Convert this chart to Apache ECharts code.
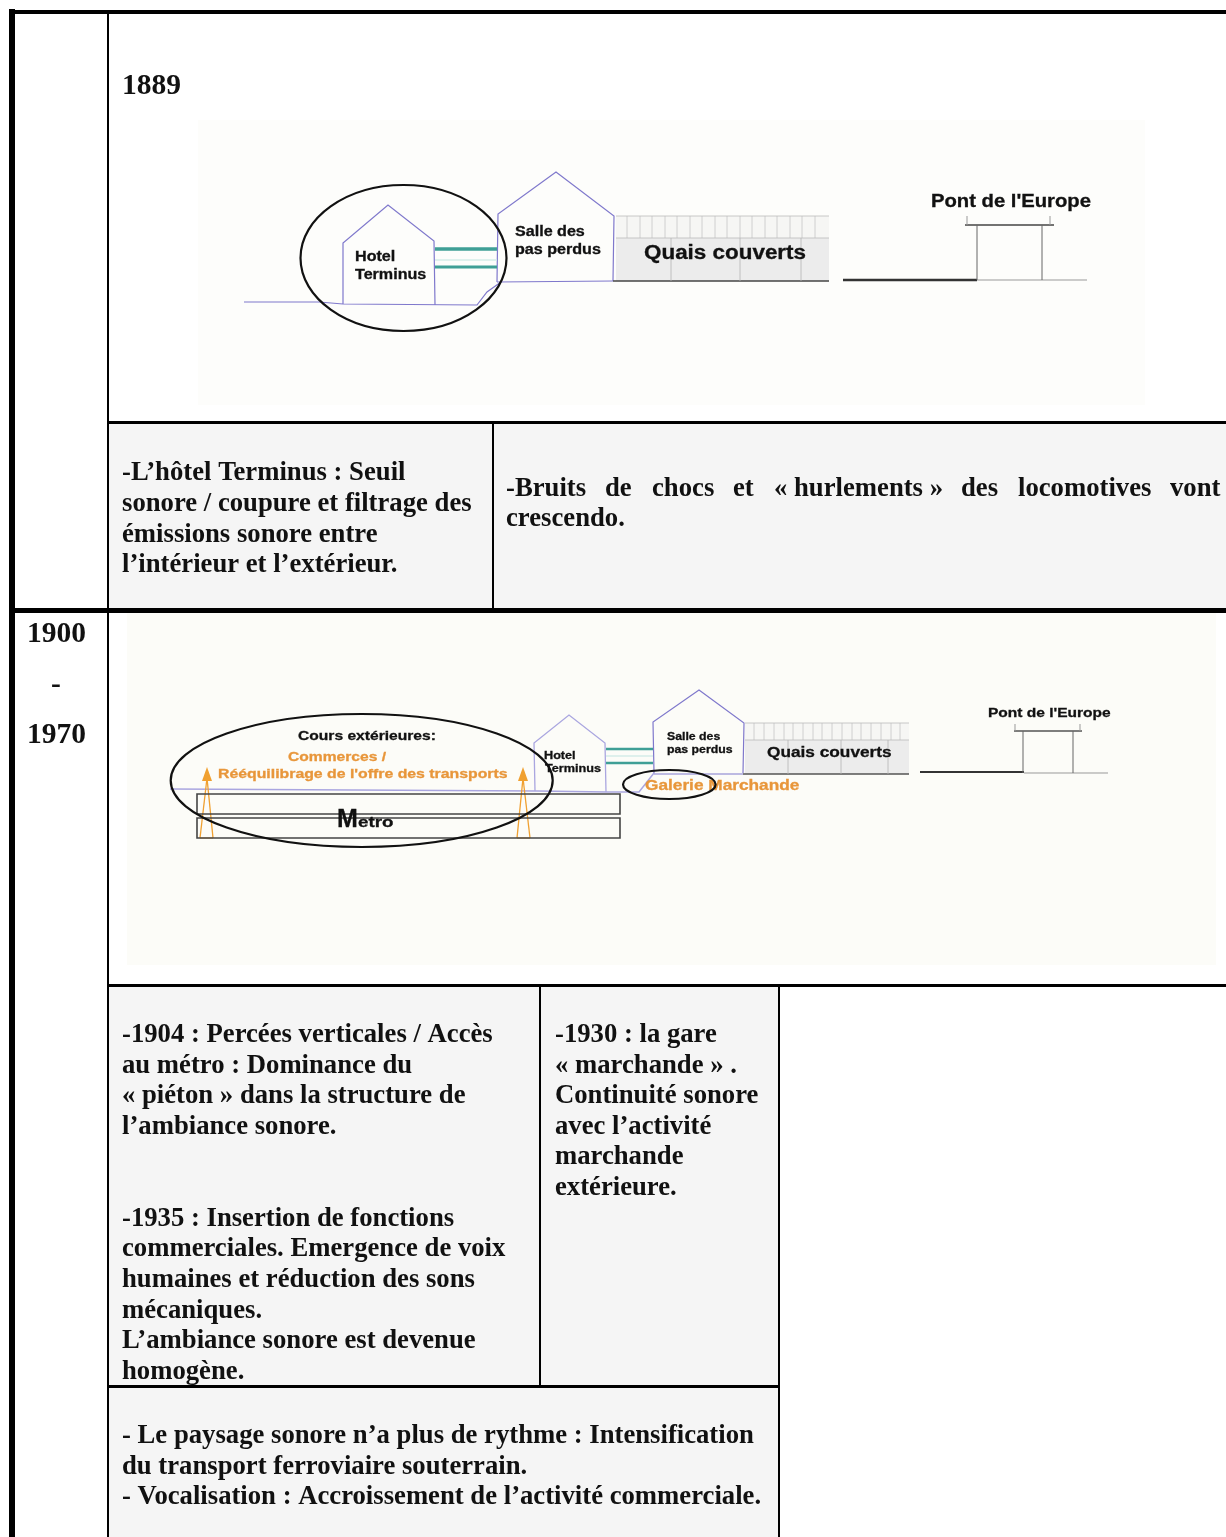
<!DOCTYPE html>
<html><head><meta charset="utf-8">
<style>html,body{margin:0;padding:0;background:#fff}#c{width:1226px;height:1537px}</style>
<script src="https://cdn.jsdelivr.net/npm/echarts@6/dist/echarts.min.js"></script>
</head><body><div id="c"></div>
<script>
const SERIF='"Liberation Serif"', SANS='"Liberation Sans"';
// ---- text content ----
const years=[['1889',122,86],['1900',27,634],['-',51,685],['1970',27,735]];
const cellLines=[
 ['-L’hôtel Terminus : Seuil',122,473],['sonore / coupure et filtrage des',122,504],['émissions sonore entre',122,535],['l’intérieur et l’extérieur.',122,565],
 ['crescendo.',506,519],
 ['-1904 : Percées verticales / Accès',122,1035],['au métro : Dominance du',122,1066],['« piéton » dans la structure de',122,1096],['l’ambiance sonore.',122,1127],
 ['-1935 : Insertion de fonctions',122,1219],['commerciales. Emergence de voix',122,1249],['humaines et réduction des sons',122,1280],['mécaniques.',122,1311],['L’ambiance sonore est devenue',122,1341],['homogène.',122,1372],
 ['-1930 : la gare',555,1035],['« marchande » .',555,1066],['Continuité sonore',555,1096],['avec l’activité',555,1127],['marchande',555,1157],['extérieure.',555,1188],
 ['- Le paysage sonore n’a plus de rythme : Intensification',122,1436],['du transport ferroviaire souterrain.',122,1467],['- Vocalisation : Accroissement de l’activité commerciale.',122,1497]
];
const justifiedWords=[['-Bruits',506],['de',605],['chocs',652],['et',733],['« hurlements »',774],['des',961],['locomotives',1018],['vont',1170]];
const justifiedY=489;
// [text,x,y,size,scaleX,color]
const BLK='#111',ORG='#e8963a';
const sketchLabels=[
 ['Hotel',355,257,14,1.15,BLK],['Terminus',355,275,14,1.15,BLK],['Salle des',515,232,14,1.15,BLK],['pas perdus',515,250,14,1.15,BLK],
 ['Quais couverts',644,254,19.5,1.15,BLK],['Pont de l\'Europe',931,202,17.6,1.15,BLK],
 ['Cours extérieures:',298,736,13,1.2,BLK],['Commerces /',288,757,13,1.2,ORG],['Rééquilibrage de l\'offre des transports',218,774,13.2,1.2,ORG],
 ['M',337,820,25,1,BLK],['etro',358,823,15,1.25,BLK],
 ['Hotel',544,756,11,1.15,BLK],['Terminus',545,769,11,1.15,BLK],['Salle des',667,737,10.7,1.15,BLK],['pas perdus',667,750,10.7,1.15,BLK],
 ['Quais couverts',767,753,15,1.15,BLK],['Galerie Marchande',645,786,15,1.15,ORG],['Pont de l\'Europe',988,713,13.5,1.15,BLK]
];
// ---- table ----
// [x0,y0,x1,y1,fill]
const fills=[
 [198,120,1145,405,'#fdfdfb'],[127,613,1216,965,'#fcfcf8'],
 [109,424,1226,608,'#f5f5f5'],[109,987,779,1386,'#f5f5f5'],[109,1388,779,1537,'#f5f5f5'],
 [616,238,829,281,'#ececec'],[616,216,829,238,'#f6f6f4'],[745,740,909,774,'#ececec'],[745,723,909,740,'#f6f6f4']
];
const rules=[
 [9,10,1226,14],[9,9,15,1537],[107,14,109,1537],[107,421,1226,424],[492,424,494,608],[9,608,1226,613],
 [107,984,1226,987],[539,987,541,1386],[778,985,780,1537],[107,1385,780,1388]
];
// ---- sketch ----
const VIO='#7f78cc',TEAL='#3f9f96',GRY='#999',DK='#333',ORL='#f0a030';
const upper1=[627,640,652,665,677,690,702,715,727,740,752,765,777,790,802,815];
const lower1=[671,740,801];
const upper2=[754,764,774,784,793,803,813,822,832,842,852,861,871,881,891,900];
const lower2=[788,841,888];
const polylines=[
 [[[343,304],[343,243],[388,205],[434,241],[435,305]],VIO,1.2],
 [[[244,302],[319,302],[343,304],[477,305],[487,292],[501,282]],VIO,1.2],
 [[[497,282],[498,214],[556,172],[614,216],[613,281]],VIO,1.2],
 [[[497,282],[613,281]],VIO,1.2],
 [[[613,281],[829,281]],'#444',1.5],
 [[[435,249],[497,249]],TEAL,3.5],[[[435,267],[497,267]],TEAL,3],[[[435,260],[497,260]],'#d5ece9',1.5],
 [[[843,280],[977,280]],'#333',2.5],[[[977,280],[1087,280]],GRY,1],
 [[[965,225],[1054,225]],'#444',1.5],[[[967,216],[967,225]],GRY,1],[[[1050,216],[1050,225]],GRY,1],[[[977,225],[977,280]],'#666',1],[[[1042,225],[1042,280]],'#666',1],
 [[[170,789],[537,791],[607,792],[639,792],[654,773]],'#aaa6e0',1.5],
 [[[535,791],[534,743],[569,715],[605,743],[606,792]],'#aaa6e0',1.3],
 [[[654,773],[653,722],[699,690],[744,723],[743,773]],VIO,1.2],
 [[[654,774],[743,774]],VIO,1.2],[[[743,774],[909,774]],'#555',1.3],
 [[[606,749],[653,749]],TEAL,2.5],[[[606,763],[653,763]],TEAL,2.5],[[[606,756],[653,756]],'#d5ece9',1.5],
 [[[920,772],[1024,772]],'#333',2],[[[1024,773],[1108,773]],GRY,1],
 [[[1014,731],[1082,731]],'#555',1.5],[[[1015,724],[1015,731]],GRY,1],[[[1080,724],[1080,731]],GRY,1],[[[1023,731],[1023,773]],'#666',1],[[[1073,731],[1073,773]],'#666',1],
 [[[207,778],[200,838]],ORL,1.3],[[[207,778],[213,838]],ORL,1.3],[[[200,838],[213,838]],ORL,1],
 [[[523,778],[517,838]],ORL,1.3],[[[523,778],[530,838]],ORL,1.3],[[[517,838],[530,838]],ORL,1]
];
const triangles=[[[207,767],[202,781],[212,781]],[[523,767],[518,781],[528,781]]];
// [x0,y0,x1,y1]
const metroTubes=[[197,794,620,814],[197,818,620,838]];
// [cx,cy,rx,ry]
const ellipses=[[403.5,258,103,73],[361.7,780.5,191,66.5],[669.3,784.5,46.3,14.5]];

upper1.forEach(x=>polylines.push([[[x,216],[x,238]],'#c6c6c6',0.8]));
polylines.push([[[616,216],[829,216]],'#bbb',0.8],[[[616,238],[829,238]],'#bbb',0.8]);
lower1.forEach(x=>polylines.push([[[x,238],[x,281]],'#b5b5b5',0.8]));
upper2.forEach(x=>polylines.push([[[x,723],[x,740]],'#c6c6c6',0.8]));
polylines.push([[[745,723],[909,723]],'#bbb',0.8],[[[745,740],[909,740]],'#bbb',0.8]);
lower2.forEach(x=>polylines.push([[[x,740],[x,774]],'#b5b5b5',0.8]));

function layer(items,render){
 return {type:'custom',coordinateSystem:'cartesian2d',clip:false,silent:true,
  data:items.map((_,i)=>[i,0]),encode:{x:0,y:1},
  renderItem:(p,api)=>render(items[p.dataIndex],a=>api.coord(a))};
}
const rectEl=(r,c,style)=>{const a=c([r[0],r[1]]),b=c([r[2],r[3]]);
 return {type:'rect',shape:{x:a[0],y:a[1],width:b[0]-a[0],height:b[1]-a[1]},style};};
const textEl=(t,x,y,c,font,sx,fill,sw)=>{const p=c([x,y]);
 const style={text:t,x:0,y:0,font,fill,textAlign:'left',textVerticalAlign:'middle'};
 if(sw){style.stroke=fill;style.lineWidth=sw;}
 return {type:'text',x:p[0],y:p[1],scaleX:sx||1,style};};
const serifBody='bold 26.7px '+SERIF, serifYear='bold 29.5px '+SERIF;

const option={animation:false,
 grid:{left:0,right:0,top:0,bottom:0},
 xAxis:{type:'value',min:0,max:1226,show:false},
 yAxis:{type:'value',min:0,max:1537,inverse:true,show:false},
 series:[
  layer(fills,(r,c)=>rectEl(r,c,{fill:r[4]})),
  layer(rules,(r,c)=>rectEl(r,c,{fill:'#000'})),
  layer(polylines,(l,c)=>({type:'polyline',shape:{points:l[0].map(c)},style:{stroke:l[1],lineWidth:l[2],fill:null}})),
  layer(metroTubes,(r,c)=>rectEl(r,c,{fill:null,stroke:'#444',lineWidth:1.6})),
  layer(triangles,(t,c)=>({type:'polygon',shape:{points:t.map(c)},style:{fill:ORL}})),
  layer(sketchLabels,(l,c)=>textEl(l[0],l[1],l[2],c,'bold '+l[3]+'px '+SANS,l[4],l[5],0.3)),
  layer(ellipses,(e,c)=>{const p=c([e[0],e[1]]);return {type:'ellipse',shape:{cx:p[0],cy:p[1],rx:e[2],ry:e[3]},style:{fill:null,stroke:'#111',lineWidth:2.2}};}),
  layer(years,(l,c)=>textEl(l[0],l[1],l[2],c,serifYear,1,'#111')),
  layer(cellLines,(l,c)=>textEl(l[0],l[1],l[2],c,serifBody,1,'#111')),
  layer(justifiedWords,(l,c)=>textEl(l[0],l[1],justifiedY,c,serifBody,1,'#111'))
 ]};
echarts.init(document.getElementById('c'),null,{renderer:'canvas'}).setOption(option);
</script></body></html>
